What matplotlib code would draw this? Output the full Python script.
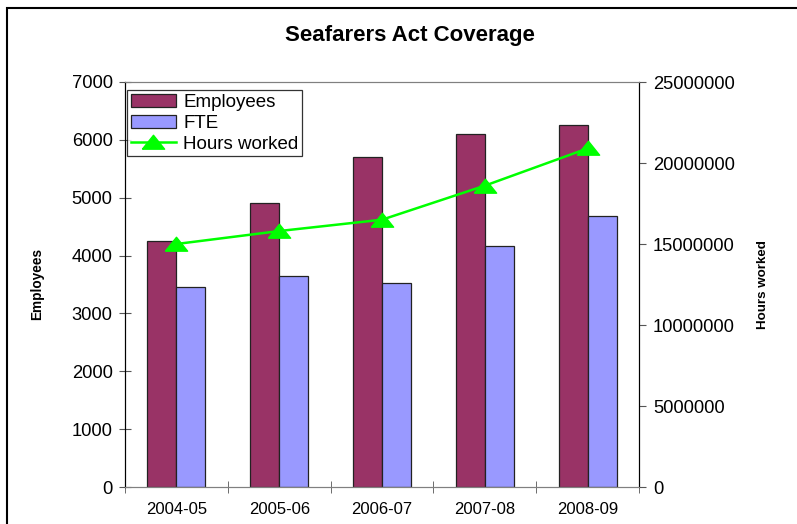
import numpy as np
import matplotlib.pyplot as plt
from matplotlib.patches import Rectangle

plt.rcParams['font.family'] = ['Liberation Sans', 'DejaVu Sans']

anos = ["2004-05", "2005-06", "2006-07", "2007-08", "2008-09"]
employees = [4250, 4900, 5700, 6100, 6250]
fte = [3450, 3650, 3530, 4170, 4680]
horas = [15000000, 15800000, 16500000, 18600000, 20900000]

cor_emp = "#993366"
cor_fte = "#9999FF"
cor_horas = "#00FF00"

# triangulo largo e achatado
tri = [(-1, -0.6), (1, -0.6), (0, 0.65), (-1, -0.6)]

fig = plt.figure(figsize=(7.97, 5.24), dpi=100)
ax = fig.add_axes([125/797, 1-487/524, (639-125)/797, (487-82)/524])
ax2 = ax.twinx()

x = np.arange(len(anos))
w = 0.282
b1 = ax.bar(x - w/2, employees, w, color=cor_emp, edgecolor="#222222", linewidth=0.9, label="Employees")
b2 = ax.bar(x + w/2, fte, w, color=cor_fte, edgecolor="#222222", linewidth=0.9, label="FTE")
l1, = ax2.plot(x, horas, color=cor_horas, lw=1.8, marker=tri, markersize=16, label="Hours worked")

ax.set_xlim(-0.5, len(anos) - 0.5)
ax.set_ylim(0, 7000)
ax.set_yticks(range(0, 7001, 1000))
ax2.set_ylim(0, 25000000)
ax2.set_yticks(range(0, 25000001, 5000000))
ax2.set_yticklabels([str(v) for v in range(0, 25000001, 5000000)])

# categorias no centro, marcas entre elas
ax.set_xticks(x)
ax.set_xticklabels(anos, fontsize=12)
ax.set_xticks(np.arange(-0.5, len(anos)), minor=True)
ax.tick_params(axis="x", which="major", length=0, pad=11)
ax.tick_params(axis="x", which="minor", length=8, direction="inout", color="#555555")
ax.tick_params(axis="y", length=8, direction="inout", color="#555555", labelsize=13.2, pad=5)
ax2.tick_params(axis="y", length=5, direction="out", color="#555555", labelsize=13.2, pad=5)

for a in (ax, ax2):
    a.spines["top"].set_color("#808080")
    a.spines["bottom"].set_color("#808080")
    a.spines["left"].set_color("black")
    a.spines["right"].set_color("black")

ax.set_ylabel("Employees", fontsize=9.8, fontweight="bold")
ax2.set_ylabel("Hours worked", fontsize=9.6, fontweight="bold")
ax.yaxis.set_label_coords(-0.158, 0.5)
ax2.yaxis.set_label_coords(1.229, 0.5)

fig.text(410/797, 1-35/524, "Seafarers Act Coverage", ha="center", va="center",
         fontsize=16, fontweight="bold")

leg = ax2.legend([b1, b2, l1], ["Employees", "FTE", "Hours worked"], loc="upper left",
                 bbox_to_anchor=(0.0, 0.985), fontsize=13.5, frameon=True, fancybox=False,
                 borderpad=0.2, labelspacing=0.2, handlelength=2.4, handletextpad=0.4,
                 borderaxespad=0.1)
leg.get_frame().set_edgecolor("black")
leg.get_frame().set_linewidth(0.9)

# moldura da figura
fig.patches.append(Rectangle((7/797, -0.1), 1.1, 1 - 8/524 + 0.1, transform=fig.transFigure,
                             fill=False, edgecolor="black", linewidth=1.5))

fig.savefig("out.png", dpi=100)
